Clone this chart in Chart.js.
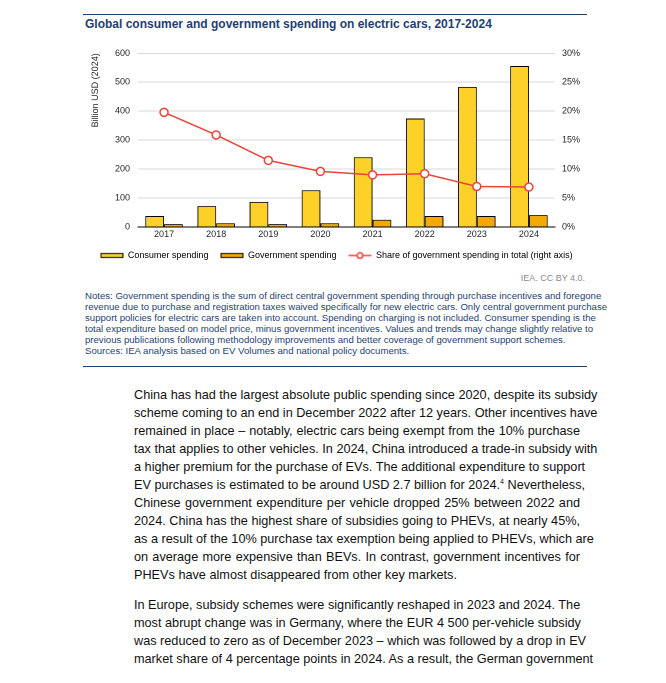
<!DOCTYPE html>
<html>
<head>
<meta charset="utf-8">
<script src="https://cdn.jsdelivr.net/npm/chart.js@4.4.1/dist/chart.umd.min.js"></script>
<style>
  body { margin: 0; background: #fff; width: 666px; height: 683px; position: relative; overflow: hidden;
         font-family: "Liberation Sans", Arial, sans-serif; }
  .rule { position: absolute; left: 83px; width: 504px; height: 0; border-top: 1.4px solid #1f3f73; }
  #title { position: absolute; left: 85px; top: 17.4px; font-size: 12px; font-weight: bold; color: #1f3f73; white-space: nowrap; }
  #chartBox { position: absolute; left: 83px; top: 35.4px; width: 504px; height: 235px; }
  #credit { position: absolute; right: 81px; top: 273px; font-size: 9px; color: #8c8c8c; }
  #notes { position: absolute; left: 85px; top: 290px; font-size: 9.6px; line-height: 11.1px; color: #1f3f73; white-space: nowrap; }
  #body { position: absolute; left: 134px; top: 386px; width: 446px; font-size: 12.7px; line-height: 18px; color: #111; }
  #body .ln { text-align: justify; text-align-last: justify; white-space: nowrap; }
  #body .end { text-align: left; text-align-last: left; }
  #body .gap { height: 12px; }
  sup { font-size: 7px; line-height: 0; vertical-align: 5px; }
</style>
</head>
<body>
<div class="rule" style="top:13.5px"></div>
<div id="title">Global consumer and government spending on electric cars, 2017-2024</div>
<div id="chartBox"><canvas id="evChart"></canvas></div>
<div id="credit">IEA. CC BY 4.0.</div>
<div id="notes">Notes: Government spending is the sum of direct central government spending through purchase incentives and foregone<br>revenue due to purchase and registration taxes waived specifically for new electric cars. Only central government purchase<br>support policies for electric cars are taken into account. Spending on charging is not included. Consumer spending is the<br>total expenditure based on model price, minus government incentives. Values and trends may change slightly relative to<br>previous publications following methodology improvements and better coverage of government support schemes.<br>Sources: IEA analysis based on EV Volumes and national policy documents.</div>
<div class="rule" style="top:365.5px"></div>

<div id="body">
  <div class="ln">China has had the largest absolute public spending since 2020, despite its subsidy</div>
  <div class="ln">scheme coming to an end in December 2022 after 12 years. Other incentives have</div>
  <div class="ln">remained in place – notably, electric cars being exempt from the 10% purchase</div>
  <div class="ln">tax that applies to other vehicles. In 2024, China introduced a trade-in subsidy with</div>
  <div class="ln">a higher premium for the purchase of EVs. The additional expenditure to support</div>
  <div class="ln">EV purchases is estimated to be around USD 2.7 billion for 2024.<sup>4</sup> Nevertheless,</div>
  <div class="ln">Chinese government expenditure per vehicle dropped 25% between 2022 and</div>
  <div class="ln">2024. China has the highest share of subsidies going to PHEVs, at nearly 45%,</div>
  <div class="ln">as a result of the 10% purchase tax exemption being applied to PHEVs, which are</div>
  <div class="ln">on average more expensive than BEVs. In contrast, government incentives for</div>
  <div class="ln end">PHEVs have almost disappeared from other key markets.</div>
  <div class="gap"></div>
  <div class="ln">In Europe, subsidy schemes were significantly reshaped in 2023 and 2024. The</div>
  <div class="ln">most abrupt change was in Germany, where the EUR 4 500 per-vehicle subsidy</div>
  <div class="ln">was reduced to zero as of December 2023 – which was followed by a drop in EV</div>
  <div class="ln">market share of 4 percentage points in 2024. As a result, the German government</div>
</div>

<script>
// data
const years = ['2017', '2018', '2019', '2020', '2021', '2022', '2023', '2024'];
const consumerSpending = [38, 72, 87, 127, 241, 375, 484, 556];
const governmentSpending = [10, 13, 10, 13, 25, 38, 38, 41];
const governmentShare = [19.8, 15.9, 11.5, 9.6, 9.0, 9.2, 7.0, 6.9];
const leftTicks = [0, 100, 200, 300, 400, 500, 600];
const rightTicks = [0, 5, 10, 15, 20, 25, 30];

const seriesNames = ['Consumer spending', 'Government spending', 'Share of government spending in total (right axis)'];
const consumerColor = '#fdd127';
const governmentColor = '#f2a900';
const shareColor = '#e8453c';

Chart.defaults.font.family = '"Liberation Sans", Arial, sans-serif';
Chart.defaults.font.size = 9;
Chart.defaults.color = '#262626';

// legend symbols
function barIcon(color) {
    const c = document.createElement('canvas');
    c.width = 23; c.height = 7;
    const g = c.getContext('2d');
    g.fillStyle = color;
    g.fillRect(0.5, 1, 22, 5);
    g.strokeStyle = '#000';
    g.lineWidth = 1;
    g.strokeRect(0.5, 1.5, 22, 4);
    return c;
}
function lineIcon(color) {
    const c = document.createElement('canvas');
    c.width = 23; c.height = 9;
    const g = c.getContext('2d');
    g.strokeStyle = color;
    g.lineWidth = 1.5;
    g.beginPath(); g.moveTo(0, 4.5); g.lineTo(23, 4.5); g.stroke();
    g.fillStyle = '#fff';
    g.beginPath(); g.arc(11.5, 4.5, 2.8, 0, Math.PI * 2); g.fill(); g.stroke();
    return c;
}
const legendIcons = [barIcon(consumerColor), barIcon(governmentColor), lineIcon(shareColor)];

const ctx = document.getElementById('evChart').getContext('2d');
const evChart = new Chart(ctx, {
    type: 'bar',
    data: {
        labels: years,
        datasets: [
            {
                label: seriesNames[0],
                data: consumerSpending,
                backgroundColor: consumerColor,
                borderColor: '#000',
                borderWidth: 1,
                yAxisID: 'y',
                order: 1
            },
            {
                label: seriesNames[1],
                data: governmentSpending,
                backgroundColor: governmentColor,
                borderColor: '#000',
                borderWidth: 1,
                yAxisID: 'y',
                order: 1
            },
            {
                type: 'line',
                label: seriesNames[2],
                data: governmentShare,
                borderColor: shareColor,
                borderWidth: 1.5,
                pointRadius: 4,
                pointBorderWidth: 1.5,
                pointBackgroundColor: '#fff',
                pointBorderColor: shareColor,
                tension: 0,
                yAxisID: 'y1',
                order: 0
            }
        ]
    },
    options: {
        responsive: true,
        maintainAspectRatio: false,
        animation: false,
        devicePixelRatio: 2,
        datasets: { bar: { barPercentage: 1, categoryPercentage: 0.72 } },
        layout: { padding: { top: 18.3, left: 3, right: 0, bottom: 0 } },
        scales: {
            x: {
                grid: { display: false, drawTicks: false },
                border: { display: true, color: '#000', width: 1 },
                ticks: { padding: 2, color: '#262626' },
                afterFit: (scale) => { scale.height = 12; }
            },
            y: {
                position: 'left',
                min: 0, max: 600,
                afterBuildTicks: (scale) => { scale.ticks = leftTicks.map(v => ({ value: v })); },
                grid: { color: '#d9d9d9', lineWidth: 1, drawTicks: false },
                border: { display: false },
                ticks: { padding: 8, color: '#262626' },
                title: { display: true, text: 'Billion USD (2024)', align: 'end', color: '#262626', padding: { top: 4, bottom: 0 } },
                afterFit: (scale) => { scale.width = 52; }
            },
            y1: {
                position: 'right',
                min: 0, max: 30,
                afterBuildTicks: (scale) => { scale.ticks = rightTicks.map(v => ({ value: v })); },
                grid: { drawOnChartArea: false, drawTicks: false },
                border: { display: false },
                ticks: { padding: 7, color: '#262626', callback: (v) => v + '%' },
                afterFit: (scale) => { scale.width = 32; }
            }
        },
        plugins: {
            tooltip: { enabled: false },
            legend: {
                position: 'bottom',
                labels: {
                    usePointStyle: true,
                    pointStyleWidth: 23,
                    boxHeight: 9,
                    padding: 12,
                    color: '#262626',
                    generateLabels: (chart) => seriesNames.map((name, i) => ({
                        text: name,
                        pointStyle: legendIcons[i],
                        fillStyle: 'transparent',
                        strokeStyle: 'transparent',
                        lineWidth: 0,
                        hidden: false,
                        datasetIndex: i
                    }))
                }
            }
        }
    }
});
</script>
</body>
</html>
